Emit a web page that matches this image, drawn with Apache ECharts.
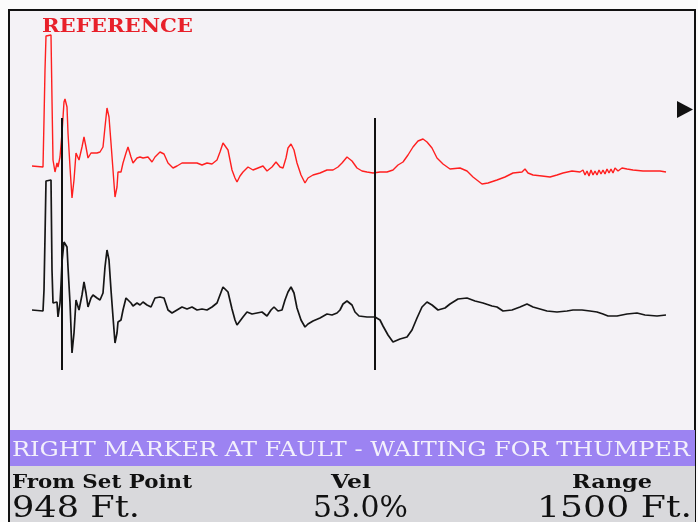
<!DOCTYPE html>
<html>
<head>
<meta charset="utf-8">
<script src="https://cdn.jsdelivr.net/npm/echarts@6/dist/echarts.min.js"></script>
<style>
  html, body { margin: 0; padding: 0; background: #fbfbfb; }
  #c { width: 698px; height: 522px; }
</style>
</head>
<body>
<div id="c"></div>
<script>
// ---- Trace data: sample position along the cable, amplitude (counts) ----
// Reference (stored) trace
const redPos = [0, 11, 12, 13, 14, 19, 20, 21, 23, 25, 26, 28, 30, 32, 33, 35, 36, 38, 40, 42, 44, 46, 47, 50, 52, 54, 56, 59, 61, 65, 68, 71, 73, 75, 77, 79, 81, 83, 85, 86, 89, 91, 94, 96, 99, 101, 105, 108, 111, 116, 120, 123, 128, 132, 136, 141, 145, 150, 155, 160, 165, 170, 175, 180, 185, 188, 191, 193, 196, 200, 203, 205, 208, 211, 216, 221, 226, 231, 235, 240, 244, 248, 251, 254, 256, 259, 262, 265, 269, 273, 276, 281, 288, 295, 301, 306, 310, 315, 320, 325, 330, 335, 341, 348, 355, 361, 366, 371, 376, 381, 386, 391, 395, 400, 405, 411, 418, 428, 435, 441, 450, 456, 465, 473, 481, 490, 493, 496, 501, 510, 518, 525, 531, 540, 548, 551, 553, 555, 557, 559, 561, 563, 565, 567, 569, 571, 573, 575, 577, 579, 581, 583, 586, 590, 595, 601, 611, 621, 628, 634];
const redAmp = [0, -1, 46, 96, 130, 131, 66, 6, -6, 3, -1, 9, 33, 64, 67, 59, 33, -1, -32, -14, 13, 14, 6, 19, 29, 19, 8, 13, 11, 13, 14, 19, 39, 58, 49, 23, -4, -31, -21, -6, -6, 3, 13, 19, 9, 3, 8, 9, 8, 9, 4, 9, 14, 12, 3, -2, 0, 3, 3, 3, 3, 1, 3, 2, 6, 14, 23, 24, 16, -4, -12, -16, -10, -6, -1, -4, -2, 0, -5, -1, 4, -1, -2, 8, 18, 22, 16, 3, -9, -17, -12, -9, -7, -4, -4, -1, 3, 9, 5, -2, -5, -6, -7, -6, -6, -4, 1, 4, 11, 19, 25, 27, 24, 18, 8, 2, -3, -2, -5, -11, -18, -17, -14, -11, -7, -6, -3, -7, -9, -10, -11, -9, -7, -5, -6, -4, -9, -5, -10, -4, -9, -5, -9, -4, -8, -4, -8, -3, -7, -3, -7, -2, -5, -2, -3, -4, -5, -5, -5, -6];

// Live (current shot) trace
const blackPos = [0, 11, 12, 13, 14, 19, 20, 21, 23, 25, 26, 28, 29, 30, 32, 35, 36, 38, 40, 42, 44, 46, 47, 50, 52, 54, 56, 59, 61, 65, 68, 71, 73, 75, 77, 79, 81, 83, 85, 86, 89, 91, 94, 96, 99, 101, 105, 108, 111, 115, 119, 123, 128, 132, 136, 140, 145, 150, 155, 160, 165, 170, 175, 180, 185, 188, 191, 193, 196, 200, 203, 205, 208, 211, 215, 220, 225, 230, 235, 239, 242, 246, 250, 253, 256, 259, 262, 265, 269, 273, 276, 281, 288, 295, 300, 305, 308, 311, 315, 320, 323, 327, 335, 343, 348, 351, 356, 361, 368, 375, 380, 385, 390, 395, 400, 406, 413, 418, 426, 435, 443, 451, 460, 465, 471, 480, 488, 495, 501, 508, 515, 525, 535, 541, 550, 558, 565, 571, 576, 585, 595, 605, 613, 625, 634];
const blackAmp = [0, -1, 20, 73, 129, 130, 40, 7, 5, 8, -7, 7, 25, 48, 68, 63, 43, 7, -43, -23, 10, 12, 0, 15, 28, 17, 3, 12, 15, 12, 10, 17, 43, 60, 50, 20, -7, -33, -23, -12, -10, 0, 12, 14, 7, 4, 7, 5, 8, 5, 3, 12, 13, 12, 0, -3, 0, 3, 1, 3, 0, 1, 0, 3, 7, 15, 23, 25, 18, 1, -10, -15, -11, -7, -2, -4, -3, -2, -6, 0, 3, -1, 0, 10, 18, 23, 17, 2, -10, -17, -14, -11, -8, -4, -5, -3, 0, 6, 9, 5, -2, -6, -7, -7, -10, -16, -25, -32, -29, -27, -20, -8, 3, 8, 5, 0, 2, 6, 11, 12, 9, 7, 4, 3, -1, 0, 3, 6, 3, 1, -1, -2, -1, 0, 0, -1, -2, -4, -6, -6, -4, -3, -5, -6, -5];

// ---- Instrument readings ----
const FT_PER_SAMPLE = 3.03;     // cable distance per trace sample at the set velocity
const SET_POINT_FT = 91;        // left marker (set point)
const MARKER_SPACING_FT = 948;  // right marker distance from set point
const VELOCITY_PCT = 53.0;
const RANGE_FT = 1500;

const traceTitle = 'REFERENCE';
const statusText = 'RIGHT MARKER AT FAULT - WAITING FOR THUMPER';
const readoutLabels = ['From Set Point', 'Vel', 'Range'];
const readoutValues = [MARKER_SPACING_FT + ' Ft.', VELOCITY_PCT.toFixed(1) + '%', RANGE_FT + ' Ft.'];

// ---- Build chart ----
const toPoints = (pos, amp) => pos.map((s, i) => [s * FT_PER_SAMPLE, amp[i]]);
const X_MAX = redPos[redPos.length - 1] * FT_PER_SAMPLE;

const mctx = document.createElement('canvas').getContext('2d');
function fitText(str, font, left, right, cy, color) {
  mctx.font = font;
  const w = mctx.measureText(str).width;
  return {
    type: 'text', x: left, y: cy, scaleX: (right - left) / w, scaleY: 1, z: 20, silent: true,
    style: { text: str, font: font, fill: color, x: 0, y: 0,
             textAlign: 'left', textVerticalAlign: 'middle', align: 'left', verticalAlign: 'middle' }
  };
}

const SERIF = '"DejaVu Serif", "Liberation Serif", serif';
const chart = echarts.init(document.getElementById('c'), null, { renderer: 'canvas' });

const grids = [
  { left: 32, width: 634, top: 26, height: 200 },   // reference trace
  { left: 32, width: 634, top: 170, height: 200 },  // live trace
  { left: 32, width: 634, top: 118, height: 252 }   // cursor markers
];
const xAxes = grids.map((g, i) => ({ type: 'value', gridIndex: i, min: 0, max: X_MAX, show: false }));
const yAxes = [
  { type: 'value', gridIndex: 0, min: -60, max: 140, show: false },
  { type: 'value', gridIndex: 1, min: -60, max: 140, show: false },
  { type: 'value', gridIndex: 2, min: 0, max: 1, show: false }
];

const graphic = [
  { type: 'rect', z: 0, silent: true, shape: { x: 9, y: 10, width: 686, height: 530 },
    style: { fill: '#f4f2f6', stroke: '#111', lineWidth: 2 } },
  { type: 'rect', z: 1, silent: true, shape: { x: 10, y: 430, width: 685, height: 36 },
    style: { fill: '#9c83f2' } },
  { type: 'rect', z: 1, silent: true, shape: { x: 10, y: 466, width: 685, height: 60 },
    style: { fill: '#d9d9dc' } },
  { type: 'polygon', z: 5, silent: true, shape: { points: [[677, 101], [677, 118], [693, 109.5]] },
    style: { fill: '#111' } },
  fitText(traceTitle, 'bold 18px ' + SERIF, 42, 193, 27, '#e8202a'),
  fitText(statusText, '20px ' + SERIF, 12, 690, 451, '#f3f0fc'),
  fitText(readoutLabels[0], 'bold 18px ' + SERIF, 12, 192, 483, '#111'),
  fitText(readoutLabels[1], 'bold 18px ' + SERIF, 331, 371, 483, '#111'),
  fitText(readoutLabels[2], 'bold 18px ' + SERIF, 572, 652, 483, '#111'),
  fitText(readoutValues[0], '30px ' + SERIF, 12, 140, 509, '#111'),
  fitText(readoutValues[1], '30px ' + SERIF, 313, 408, 509, '#111'),
  fitText(readoutValues[2], '30px ' + SERIF, 537, 692, 509, '#111')
];

chart.setOption({
  backgroundColor: '#fbfbfb',
  animation: false,
  grid: grids,
  xAxis: xAxes,
  yAxis: yAxes,
  graphic: graphic,
  series: [
    { type: 'line', xAxisIndex: 0, yAxisIndex: 0, data: toPoints(redPos, redAmp),
      symbol: 'none', silent: true, z: 3, lineStyle: { color: '#ff1f1f', width: 1.4 } },
    { type: 'line', xAxisIndex: 1, yAxisIndex: 1, data: toPoints(blackPos, blackAmp),
      symbol: 'none', silent: true, z: 3, lineStyle: { color: '#161616', width: 1.7 } },
    { type: 'line', xAxisIndex: 2, yAxisIndex: 2, data: [[0, 0.5]],
      symbol: 'none', silent: true, z: 4, lineStyle: { opacity: 0 },
      markLine: {
        silent: true, symbol: ['none', 'none'], label: { show: false },
        lineStyle: { color: '#111', width: 2, type: 'solid' },
        data: [{ xAxis: SET_POINT_FT }, { xAxis: SET_POINT_FT + MARKER_SPACING_FT }]
      } }
  ]
});
</script>
</body>
</html>
